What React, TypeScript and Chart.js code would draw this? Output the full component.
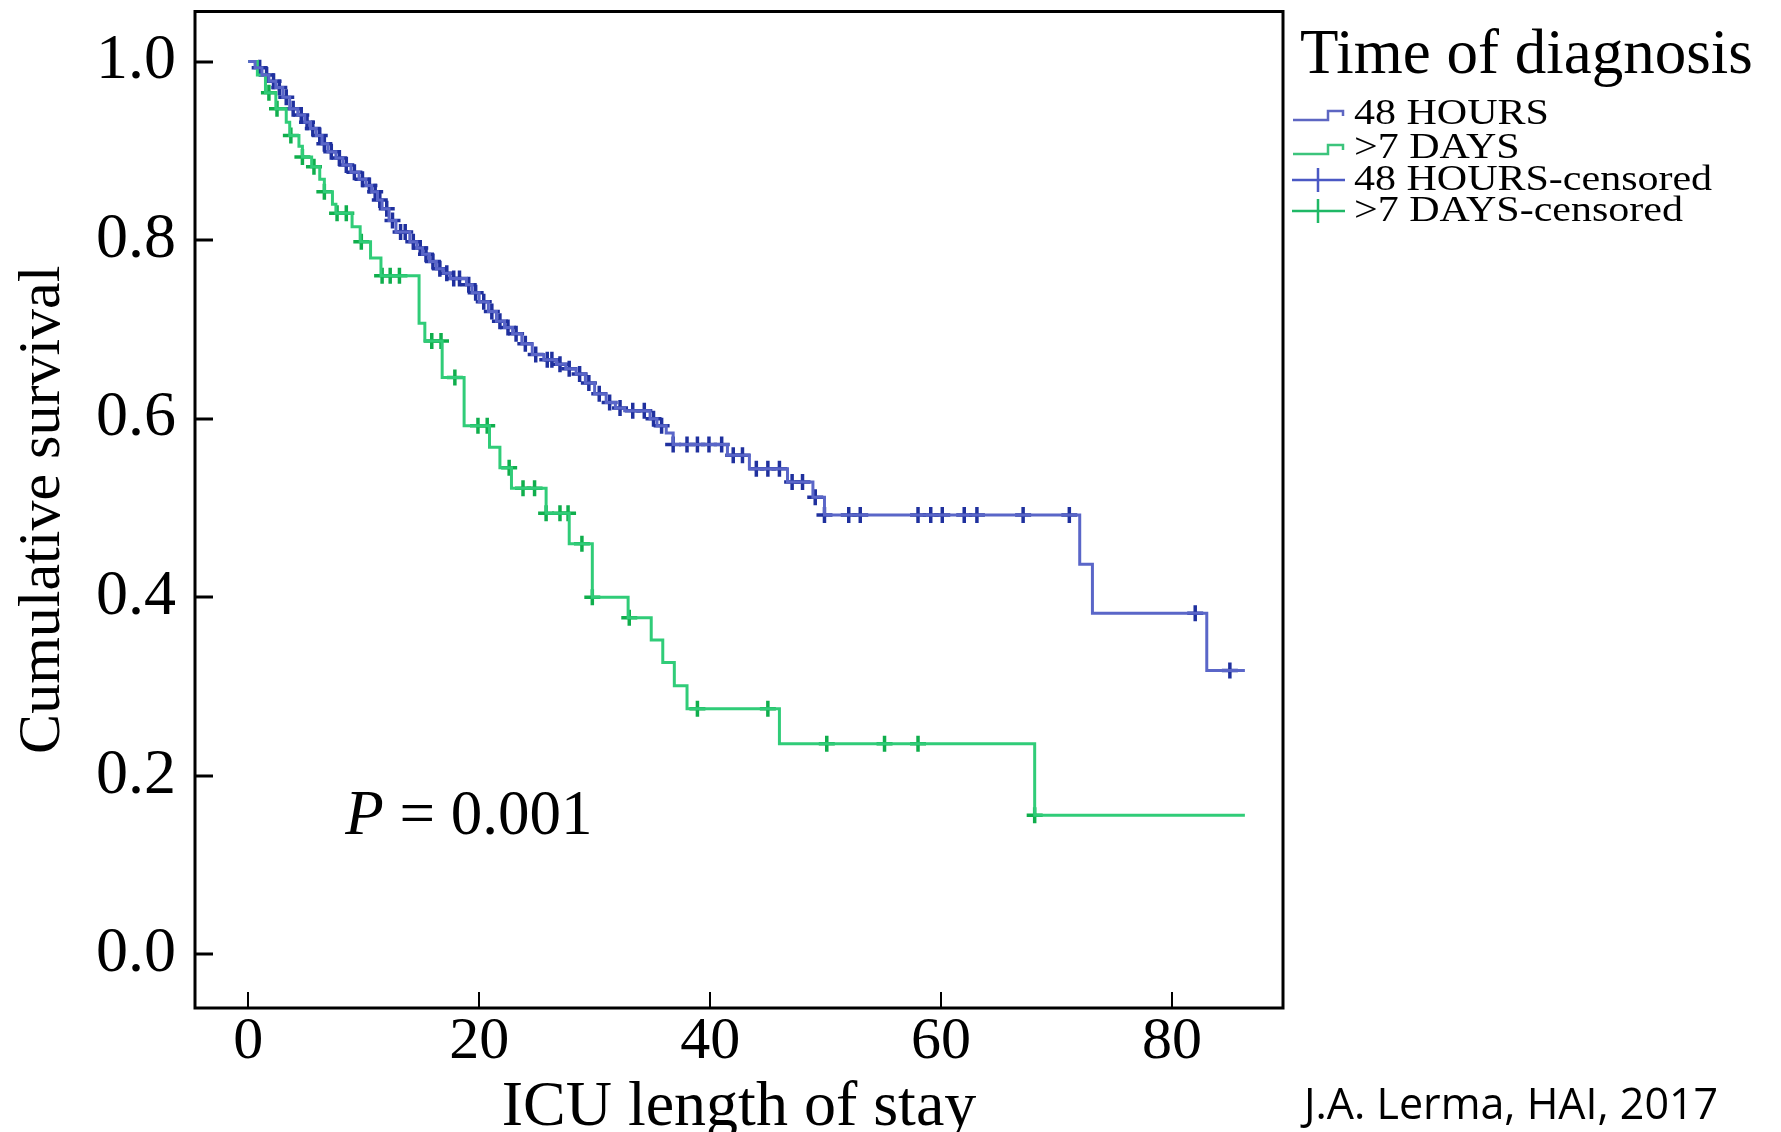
import { useEffect, useRef } from "react";
import { Chart, registerables } from "chart.js";

Chart.register(...registerables);

// ---- Data ----
const xTicks = [0, 20, 40, 60, 80];
const yTicks = [0, 0.2, 0.4, 0.6, 0.8, 1.0];

// 48 HOURS: event times and survival after each step
const blueTimes = [0, 0.6, 1.2, 1.8, 2.4, 3.0, 3.6, 4.3, 4.9, 5.4, 5.9, 6.4, 6.9, 7.6, 8.2, 8.9, 9.6, 10.2, 10.7, 11.2, 11.6, 12.2, 12.8, 14.0, 14.6, 15.1, 15.7, 16.3, 16.9, 17.5, 18.9, 19.4, 20.0, 20.8, 21.5, 22.2, 22.9, 23.7, 24.6, 25.6, 26.7, 27.5, 28.4, 29.2, 30.0, 31.0, 31.8, 32.6, 34.8, 35.4, 36.2, 36.8, 41.5, 43.4, 46.7, 48.9, 49.9, 72.0, 73.1, 83.0, 86.3];
const blueSurv = [1.0, 0.993, 0.985, 0.978, 0.971, 0.96, 0.947, 0.94, 0.932, 0.925, 0.917, 0.908, 0.899, 0.892, 0.884, 0.876, 0.868, 0.861, 0.854, 0.845, 0.835, 0.822, 0.809, 0.798, 0.791, 0.784, 0.776, 0.768, 0.763, 0.757, 0.75, 0.741, 0.731, 0.72, 0.709, 0.702, 0.695, 0.684, 0.672, 0.666, 0.661, 0.656, 0.65, 0.64, 0.628, 0.618, 0.612, 0.609, 0.6, 0.592, 0.584, 0.571, 0.559, 0.544, 0.529, 0.512, 0.492, 0.437, 0.382, 0.318, 0.318];
const blueCensored = [1.0, 1.6, 2.2, 2.7, 3.3, 3.9, 4.6, 5.1, 5.6, 6.2, 6.6, 7.2, 7.9, 8.5, 9.2, 9.9, 10.5, 11.0, 11.4, 12.0, 12.5, 13.2, 13.6, 14.3, 14.9, 15.4, 16.0, 16.6, 17.2, 17.8, 18.3, 19.1, 19.7, 20.4, 21.1, 21.8, 22.5, 23.2, 24.0, 24.9, 25.9, 26.3, 27.0, 27.8, 28.7, 29.5, 30.4, 31.3, 32.2, 33.3, 34.3, 35.1, 35.8, 36.8, 38.0, 38.9, 39.9, 41.0, 42.0, 42.8, 44.0, 45.0, 46.0, 47.1, 48.0, 49.1, 49.9, 52.0, 53.0, 58.0, 59.1, 60.1, 62.0, 63.1, 67.1, 71.1, 82.0, 85.0];

// >7 DAYS
const greenTimes = [0, 0.8, 1.5, 2.4, 3.3, 3.6, 4.4, 4.7, 5.5, 6.2, 6.6, 7.3, 7.6, 9.0, 9.7, 10.6, 11.5, 14.8, 15.3, 16.8, 18.7, 20.9, 21.8, 22.8, 25.8, 27.8, 29.8, 32.9, 34.9, 35.9, 36.9, 38.0, 46.0, 68.1, 86.3];
const greenSurv = [1.0, 0.985, 0.965, 0.947, 0.932, 0.917, 0.905, 0.893, 0.882, 0.868, 0.854, 0.84, 0.83, 0.815, 0.798, 0.78, 0.76, 0.707, 0.687, 0.646, 0.592, 0.568, 0.545, 0.522, 0.494, 0.46, 0.40, 0.377, 0.352, 0.327, 0.301, 0.275, 0.236, 0.156, 0.156];
const greenCensored = [1.8, 2.5, 3.7, 4.7, 5.7, 6.6, 7.7, 8.5, 9.8, 11.6, 12.3, 13.1, 15.9, 16.7, 17.9, 19.9, 20.7, 22.6, 23.8, 24.8, 25.8, 27.0, 27.7, 28.9, 29.8, 33.0, 38.9, 45.0, 50.1, 55.1, 58.0, 68.1];

const legendTitle = "Time of diagnosis";
const legendLabels = ["48 HOURS", ">7 DAYS", "48 HOURS-censored", ">7 DAYS-censored"];
const pValueText = "= 0.001";
const citation = "J.A. Lerma, HAI, 2017";

// ---- helpers ----
const BLUE_LINE = "#5a66c8";
const BLUE_MARK = "#1f309e";
const GREEN_LINE = "#30cc78";
const GREEN_MARK = "#0fae4c";
const SERIF = '"Liberation Serif", "Times New Roman", serif';

function survivalAt(times: number[], surv: number[], t: number) {
  let s = surv[0];
  for (let i = 0; i < times.length; i++) {
    if (times[i] <= t + 1e-9) s = surv[i];
  }
  return s;
}

const decorPlugin = {
  id: "decor",
  afterDraw(chart: any) {
    const { ctx, chartArea: a, scales } = chart;
    const xs = scales.x;
    const ys = scales.y;
    ctx.save();
    // frame
    ctx.strokeStyle = "#000";
    ctx.lineWidth = 3;
    ctx.strokeRect(a.left, a.top, a.right - a.left, a.bottom - a.top);
    // inward ticks
    ctx.lineWidth = 3;
    yTicks.forEach((v) => {
      const py = Math.round(ys.getPixelForValue(v));
      ctx.beginPath();
      ctx.moveTo(a.left, py);
      ctx.lineTo(a.left + 18, py);
      ctx.stroke();
    });
    ctx.lineWidth = 2;
    xTicks.forEach((v) => {
      const px = Math.round(xs.getPixelForValue(v));
      ctx.beginPath();
      ctx.moveTo(px, a.bottom);
      ctx.lineTo(px, a.bottom - 16);
      ctx.stroke();
    });

    // P value annotation
    ctx.fillStyle = "#000";
    ctx.textBaseline = "alphabetic";
    ctx.textAlign = "left";
    const px = xs.getPixelForValue(8.4);
    const py = ys.getPixelForValue(0.135);
    ctx.font = `italic 63px ${SERIF}`;
    ctx.fillText("P", px, py);
    const pw = ctx.measureText("P ").width;
    ctx.font = `63px ${SERIF}`;
    ctx.fillText(pValueText, px + pw, py);

    // legend
    ctx.font = `63px ${SERIF}`;
    ctx.fillText(legendTitle, 1300, 73);
    const rows = [124, 158, 190, 221];
    const colors = ["#5d66c2", "#3cc47c", "#4a58c4", "#1fb866"];
    rows.forEach((base, i) => {
      ctx.strokeStyle = colors[i];
      ctx.lineWidth = 2.5;
      ctx.beginPath();
      if (i < 2) {
        const lo = base - 4;
        const hi = base - 13;
        ctx.moveTo(1293, lo);
        ctx.lineTo(1328, lo);
        ctx.lineTo(1328, hi);
        ctx.lineTo(1343, hi);
        ctx.lineTo(1343, hi + 5);
      } else {
        const mid = base - 10;
        ctx.moveTo(1292, mid);
        ctx.lineTo(1345, mid);
        ctx.moveTo(1318, mid - 12);
        ctx.lineTo(1318, mid + 12);
      }
      ctx.stroke();
      ctx.save();
      ctx.translate(1354, base);
      ctx.scale(1.2, 1);
      ctx.fillStyle = "#000";
      ctx.font = `35px ${SERIF}`;
      ctx.fillText(legendLabels[i], 0, 0);
      ctx.restore();
    });

    // citation
    ctx.fillStyle = "#000";
    ctx.font = '43px "Open Sans", "Liberation Sans", sans-serif';
    ctx.fillText(citation, 1304, 1119);
    ctx.restore();
  },
};

export default function App() {
  const ref = useRef<HTMLCanvasElement | null>(null);

  useEffect(() => {
    if (!ref.current) return;
    const bluePts = blueTimes.map((t, i) => ({ x: t, y: blueSurv[i] }));
    const greenPts = greenTimes.map((t, i) => ({ x: t, y: greenSurv[i] }));
    const blueCens = blueCensored.map((t) => ({ x: t, y: survivalAt(blueTimes, blueSurv, t) }));
    const greenCens = greenCensored.map((t) => ({ x: t, y: survivalAt(greenTimes, greenSurv, t) }));

    const chart = new Chart(ref.current, {
      type: "line",
      data: {
        datasets: [
          {
            label: legendLabels[0],
            data: bluePts,
            stepped: "before",
            borderColor: BLUE_LINE,
            borderWidth: 3,
            pointRadius: 0,
            fill: false,
          },
          {
            label: legendLabels[1],
            data: greenPts,
            stepped: "before",
            borderColor: GREEN_LINE,
            borderWidth: 3,
            pointRadius: 0,
            fill: false,
          },
          {
            label: legendLabels[2],
            data: blueCens,
            showLine: false,
            pointStyle: "cross",
            pointRadius: 8,
            pointBorderWidth: 3.5,
            pointBorderColor: BLUE_MARK,
            borderColor: BLUE_MARK,
          },
          {
            label: legendLabels[3],
            data: greenCens,
            showLine: false,
            pointStyle: "cross",
            pointRadius: 8,
            pointBorderWidth: 3.5,
            pointBorderColor: GREEN_MARK,
            borderColor: GREEN_MARK,
          },
        ],
      },
      options: {
        animation: false,
        responsive: false,
        devicePixelRatio: 1,
        layout: { padding: { top: 8, right: 498, left: 0, bottom: 0 } },
        plugins: {
          legend: { display: false },
          tooltip: { enabled: false },
        },
        scales: {
          x: {
            type: "linear",
            min: -4.6,
            max: 89.6,
            grid: { display: false, drawTicks: false },
            border: { display: false },
            afterBuildTicks: (s: any) => {
              s.ticks = xTicks.map((v) => ({ value: v }));
            },
            afterFit: (s: any) => {
              s.height = 124;
              s.paddingLeft = 0;
              s.paddingRight = 0;
            },
            ticks: {
              color: "#000",
              font: { family: SERIF, size: 60, lineHeight: 1 },
              padding: 4,
              maxRotation: 0,
              autoSkip: false,
              callback: (v: any) => String(v),
            },
            title: {
              display: true,
              text: "ICU length of stay",
              color: "#000",
              font: { family: SERIF, size: 64, lineHeight: 1 },
              padding: { top: 0, bottom: -8 },
            },
          },
          y: {
            type: "linear",
            min: -0.06,
            max: 1.056,
            grid: { display: false, drawTicks: false },
            border: { display: false },
            afterBuildTicks: (s: any) => {
              s.ticks = yTicks.map((v) => ({ value: v }));
            },
            afterFit: (s: any) => {
              s.width = 195;
              s.paddingTop = 0;
              s.paddingBottom = 0;
            },
            ticks: {
              color: "#000",
              font: { family: SERIF, size: 64, lineHeight: 1 },
              padding: 19,
              autoSkip: false,
              callback: (v: any) => Number(v).toFixed(1),
            },
            title: {
              display: true,
              text: "Cumulative survival",
              color: "#000",
              font: { family: SERIF, size: 60, lineHeight: 1 },
              padding: { top: 13, bottom: 0 },
            },
          },
        },
      },
      plugins: [decorPlugin],
    });
    return () => chart.destroy();
  }, []);

  return (
    <div style={{ position: "fixed", left: 0, top: 0, width: 1781, height: 1132, background: "#fff" }}>
      <canvas ref={ref} width={1781} height={1132} style={{ display: "block", width: 1781, height: 1132 }} />
    </div>
  );
}
